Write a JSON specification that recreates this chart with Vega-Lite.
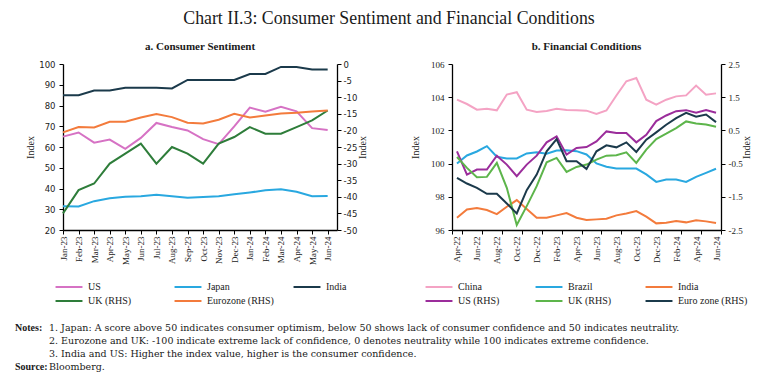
{
  "$schema": "https://vega.github.io/schema/vega-lite/v6.json",
  "background": "white",
  "padding": {"left": 15, "right": 5, "top": 10, "bottom": 5},
  "title": {"text": "Chart II.3: Consumer Sentiment and Financial Conditions", "font": "Liberation Serif", "fontSize": 17.8, "fontWeight": "normal", "color": "#1a1a1a", "anchor": "middle", "offset": 13},
  "datasets": {
    "sent": [
      {"month": "Jan-23", "series": "US", "value": 65.0}, {"month": "Feb-23", "series": "US", "value": 67.0}, {"month": "Mar-23", "series": "US", "value": 62.1}, {"month": "Apr-23", "series": "US", "value": 63.6}, {"month": "May-23", "series": "US", "value": 59.1}, {"month": "Jun-23", "series": "US", "value": 64.4}, {"month": "Jul-23", "series": "US", "value": 71.6}, {"month": "Aug-23", "series": "US", "value": 69.6}, {"month": "Sep-23", "series": "US", "value": 68.0}, {"month": "Oct-23", "series": "US", "value": 63.8}, {"month": "Nov-23", "series": "US", "value": 61.4}, {"month": "Dec-23", "series": "US", "value": 69.9}, {"month": "Jan-24", "series": "US", "value": 79.0}, {"month": "Feb-24", "series": "US", "value": 77.0}, {"month": "Mar-24", "series": "US", "value": 79.4}, {"month": "Apr-24", "series": "US", "value": 77.2}, {"month": "May-24", "series": "US", "value": 69.1}, {"month": "Jun-24", "series": "US", "value": 68.2},
      {"month": "Jan-23", "series": "Japan", "value": 31.4}, {"month": "Feb-23", "series": "Japan", "value": 31.3}, {"month": "Mar-23", "series": "Japan", "value": 33.9}, {"month": "Apr-23", "series": "Japan", "value": 35.3}, {"month": "May-23", "series": "Japan", "value": 36.0}, {"month": "Jun-23", "series": "Japan", "value": 36.3}, {"month": "Jul-23", "series": "Japan", "value": 37.0}, {"month": "Aug-23", "series": "Japan", "value": 36.3}, {"month": "Sep-23", "series": "Japan", "value": 35.5}, {"month": "Oct-23", "series": "Japan", "value": 35.9}, {"month": "Nov-23", "series": "Japan", "value": 36.3}, {"month": "Dec-23", "series": "Japan", "value": 37.2}, {"month": "Jan-24", "series": "Japan", "value": 38.1}, {"month": "Feb-24", "series": "Japan", "value": 39.1}, {"month": "Mar-24", "series": "Japan", "value": 39.6}, {"month": "Apr-24", "series": "Japan", "value": 38.4}, {"month": "May-24", "series": "Japan", "value": 36.3}, {"month": "Jun-24", "series": "Japan", "value": 36.4},
      {"month": "Jan-23", "series": "India", "value": 85.0}, {"month": "Feb-23", "series": "India", "value": 85.0}, {"month": "Mar-23", "series": "India", "value": 87.2}, {"month": "Apr-23", "series": "India", "value": 87.2}, {"month": "May-23", "series": "India", "value": 88.6}, {"month": "Jun-23", "series": "India", "value": 88.6}, {"month": "Jul-23", "series": "India", "value": 88.6}, {"month": "Aug-23", "series": "India", "value": 88.2}, {"month": "Sep-23", "series": "India", "value": 92.3}, {"month": "Oct-23", "series": "India", "value": 92.3}, {"month": "Nov-23", "series": "India", "value": 92.3}, {"month": "Dec-23", "series": "India", "value": 92.3}, {"month": "Jan-24", "series": "India", "value": 95.2}, {"month": "Feb-24", "series": "India", "value": 95.2}, {"month": "Mar-24", "series": "India", "value": 98.6}, {"month": "Apr-24", "series": "India", "value": 98.6}, {"month": "May-24", "series": "India", "value": 97.3}, {"month": "Jun-24", "series": "India", "value": 97.3},
      {"month": "Jan-23", "series": "UK (RHS)", "value": -45}, {"month": "Feb-23", "series": "UK (RHS)", "value": -38}, {"month": "Mar-23", "series": "UK (RHS)", "value": -36}, {"month": "Apr-23", "series": "UK (RHS)", "value": -30}, {"month": "May-23", "series": "UK (RHS)", "value": -27}, {"month": "Jun-23", "series": "UK (RHS)", "value": -24}, {"month": "Jul-23", "series": "UK (RHS)", "value": -30}, {"month": "Aug-23", "series": "UK (RHS)", "value": -25}, {"month": "Sep-23", "series": "UK (RHS)", "value": -27}, {"month": "Oct-23", "series": "UK (RHS)", "value": -30}, {"month": "Nov-23", "series": "UK (RHS)", "value": -24}, {"month": "Dec-23", "series": "UK (RHS)", "value": -22}, {"month": "Jan-24", "series": "UK (RHS)", "value": -19}, {"month": "Feb-24", "series": "UK (RHS)", "value": -21}, {"month": "Mar-24", "series": "UK (RHS)", "value": -21}, {"month": "Apr-24", "series": "UK (RHS)", "value": -19}, {"month": "May-24", "series": "UK (RHS)", "value": -17}, {"month": "Jun-24", "series": "UK (RHS)", "value": -14},
      {"month": "Jan-23", "series": "Eurozone (RHS)", "value": -20.6}, {"month": "Feb-23", "series": "Eurozone (RHS)", "value": -19.0}, {"month": "Mar-23", "series": "Eurozone (RHS)", "value": -19.1}, {"month": "Apr-23", "series": "Eurozone (RHS)", "value": -17.4}, {"month": "May-23", "series": "Eurozone (RHS)", "value": -17.4}, {"month": "Jun-23", "series": "Eurozone (RHS)", "value": -16.1}, {"month": "Jul-23", "series": "Eurozone (RHS)", "value": -15.1}, {"month": "Aug-23", "series": "Eurozone (RHS)", "value": -16.0}, {"month": "Sep-23", "series": "Eurozone (RHS)", "value": -17.7}, {"month": "Oct-23", "series": "Eurozone (RHS)", "value": -17.9}, {"month": "Nov-23", "series": "Eurozone (RHS)", "value": -16.8}, {"month": "Dec-23", "series": "Eurozone (RHS)", "value": -15.0}, {"month": "Jan-24", "series": "Eurozone (RHS)", "value": -16.1}, {"month": "Feb-24", "series": "Eurozone (RHS)", "value": -15.5}, {"month": "Mar-24", "series": "Eurozone (RHS)", "value": -14.9}, {"month": "Apr-24", "series": "Eurozone (RHS)", "value": -14.7}, {"month": "May-24", "series": "Eurozone (RHS)", "value": -14.3}, {"month": "Jun-24", "series": "Eurozone (RHS)", "value": -14.0}
    ],
    "fin": [
      {"month": "Apr-22", "series": "China", "value": 103.85}, {"month": "May-22", "series": "China", "value": 103.59}, {"month": "Jun-22", "series": "China", "value": 103.25}, {"month": "Jul-22", "series": "China", "value": 103.31}, {"month": "Aug-22", "series": "China", "value": 103.21}, {"month": "Sep-22", "series": "China", "value": 104.16}, {"month": "Oct-22", "series": "China", "value": 104.3}, {"month": "Nov-22", "series": "China", "value": 103.25}, {"month": "Dec-22", "series": "China", "value": 103.11}, {"month": "Jan-23", "series": "China", "value": 103.17}, {"month": "Feb-23", "series": "China", "value": 103.31}, {"month": "Mar-23", "series": "China", "value": 103.23}, {"month": "Apr-23", "series": "China", "value": 103.21}, {"month": "May-23", "series": "China", "value": 103.19}, {"month": "Jun-23", "series": "China", "value": 102.99}, {"month": "Jul-23", "series": "China", "value": 103.2}, {"month": "Aug-23", "series": "China", "value": 104.1}, {"month": "Sep-23", "series": "China", "value": 104.96}, {"month": "Oct-23", "series": "China", "value": 105.16}, {"month": "Nov-23", "series": "China", "value": 103.85}, {"month": "Dec-23", "series": "China", "value": 103.55}, {"month": "Jan-24", "series": "China", "value": 103.85}, {"month": "Feb-24", "series": "China", "value": 104.05}, {"month": "Mar-24", "series": "China", "value": 104.11}, {"month": "Apr-24", "series": "China", "value": 104.7}, {"month": "May-24", "series": "China", "value": 104.15}, {"month": "Jun-24", "series": "China", "value": 104.23},
      {"month": "Apr-22", "series": "Brazil", "value": 100.0}, {"month": "May-22", "series": "Brazil", "value": 100.49}, {"month": "Jun-22", "series": "Brazil", "value": 100.73}, {"month": "Jul-22", "series": "Brazil", "value": 101.05}, {"month": "Aug-22", "series": "Brazil", "value": 100.41}, {"month": "Sep-22", "series": "Brazil", "value": 100.31}, {"month": "Oct-22", "series": "Brazil", "value": 100.31}, {"month": "Nov-22", "series": "Brazil", "value": 100.61}, {"month": "Dec-22", "series": "Brazil", "value": 100.69}, {"month": "Jan-23", "series": "Brazil", "value": 100.59}, {"month": "Feb-23", "series": "Brazil", "value": 100.79}, {"month": "Mar-23", "series": "Brazil", "value": 100.81}, {"month": "Apr-23", "series": "Brazil", "value": 100.75}, {"month": "May-23", "series": "Brazil", "value": 100.55}, {"month": "Jun-23", "series": "Brazil", "value": 100.01}, {"month": "Jul-23", "series": "Brazil", "value": 99.81}, {"month": "Aug-23", "series": "Brazil", "value": 99.7}, {"month": "Sep-23", "series": "Brazil", "value": 99.7}, {"month": "Oct-23", "series": "Brazil", "value": 99.7}, {"month": "Nov-23", "series": "Brazil", "value": 99.35}, {"month": "Dec-23", "series": "Brazil", "value": 98.9}, {"month": "Jan-24", "series": "Brazil", "value": 99.04}, {"month": "Feb-24", "series": "Brazil", "value": 99.04}, {"month": "Mar-24", "series": "Brazil", "value": 98.9}, {"month": "Apr-24", "series": "Brazil", "value": 99.2}, {"month": "May-24", "series": "Brazil", "value": 99.44}, {"month": "Jun-24", "series": "Brazil", "value": 99.69},
      {"month": "Apr-22", "series": "India", "value": 96.74}, {"month": "May-22", "series": "India", "value": 97.24}, {"month": "Jun-22", "series": "India", "value": 97.32}, {"month": "Jul-22", "series": "India", "value": 97.2}, {"month": "Aug-22", "series": "India", "value": 96.96}, {"month": "Sep-22", "series": "India", "value": 97.4}, {"month": "Oct-22", "series": "India", "value": 97.8}, {"month": "Nov-22", "series": "India", "value": 97.27}, {"month": "Dec-22", "series": "India", "value": 96.74}, {"month": "Jan-23", "series": "India", "value": 96.74}, {"month": "Feb-23", "series": "India", "value": 96.88}, {"month": "Mar-23", "series": "India", "value": 97.02}, {"month": "Apr-23", "series": "India", "value": 96.74}, {"month": "May-23", "series": "India", "value": 96.6}, {"month": "Jun-23", "series": "India", "value": 96.64}, {"month": "Jul-23", "series": "India", "value": 96.68}, {"month": "Aug-23", "series": "India", "value": 96.88}, {"month": "Sep-23", "series": "India", "value": 97.0}, {"month": "Oct-23", "series": "India", "value": 97.14}, {"month": "Nov-23", "series": "India", "value": 96.8}, {"month": "Dec-23", "series": "India", "value": 96.4}, {"month": "Jan-24", "series": "India", "value": 96.44}, {"month": "Feb-24", "series": "India", "value": 96.54}, {"month": "Mar-24", "series": "India", "value": 96.46}, {"month": "Apr-24", "series": "India", "value": 96.58}, {"month": "May-24", "series": "India", "value": 96.52}, {"month": "Jun-24", "series": "India", "value": 96.42},
      {"month": "Apr-22", "series": "US (RHS)", "value": -0.13}, {"month": "May-22", "series": "US (RHS)", "value": -0.83}, {"month": "Jun-22", "series": "US (RHS)", "value": -0.68}, {"month": "Jul-22", "series": "US (RHS)", "value": -0.68}, {"month": "Aug-22", "series": "US (RHS)", "value": -0.26}, {"month": "Sep-22", "series": "US (RHS)", "value": -0.53}, {"month": "Oct-22", "series": "US (RHS)", "value": -0.88}, {"month": "Nov-22", "series": "US (RHS)", "value": -0.53}, {"month": "Dec-22", "series": "US (RHS)", "value": -0.26}, {"month": "Jan-23", "series": "US (RHS)", "value": 0.14}, {"month": "Feb-23", "series": "US (RHS)", "value": 0.32}, {"month": "Mar-23", "series": "US (RHS)", "value": -0.23}, {"month": "Apr-23", "series": "US (RHS)", "value": -0.03}, {"month": "May-23", "series": "US (RHS)", "value": 0.0}, {"month": "Jun-23", "series": "US (RHS)", "value": 0.17}, {"month": "Jul-23", "series": "US (RHS)", "value": 0.47}, {"month": "Aug-23", "series": "US (RHS)", "value": 0.42}, {"month": "Sep-23", "series": "US (RHS)", "value": 0.42}, {"month": "Oct-23", "series": "US (RHS)", "value": 0.14}, {"month": "Nov-23", "series": "US (RHS)", "value": 0.37}, {"month": "Dec-23", "series": "US (RHS)", "value": 0.78}, {"month": "Jan-24", "series": "US (RHS)", "value": 0.95}, {"month": "Feb-24", "series": "US (RHS)", "value": 1.08}, {"month": "Mar-24", "series": "US (RHS)", "value": 1.11}, {"month": "Apr-24", "series": "US (RHS)", "value": 1.03}, {"month": "May-24", "series": "US (RHS)", "value": 1.11}, {"month": "Jun-24", "series": "US (RHS)", "value": 1.03},
      {"month": "Apr-22", "series": "UK (RHS)", "value": -0.3}, {"month": "May-22", "series": "UK (RHS)", "value": -0.63}, {"month": "Jun-22", "series": "UK (RHS)", "value": -0.91}, {"month": "Jul-22", "series": "UK (RHS)", "value": -0.9}, {"month": "Aug-22", "series": "UK (RHS)", "value": -0.48}, {"month": "Sep-22", "series": "UK (RHS)", "value": -1.23}, {"month": "Oct-22", "series": "UK (RHS)", "value": -2.35}, {"month": "Nov-22", "series": "UK (RHS)", "value": -1.78}, {"month": "Dec-22", "series": "UK (RHS)", "value": -1.18}, {"month": "Jan-23", "series": "UK (RHS)", "value": -0.46}, {"month": "Feb-23", "series": "UK (RHS)", "value": -0.33}, {"month": "Mar-23", "series": "UK (RHS)", "value": -0.75}, {"month": "Apr-23", "series": "UK (RHS)", "value": -0.6}, {"month": "May-23", "series": "UK (RHS)", "value": -0.53}, {"month": "Jun-23", "series": "UK (RHS)", "value": -0.38}, {"month": "Jul-23", "series": "UK (RHS)", "value": -0.26}, {"month": "Aug-23", "series": "UK (RHS)", "value": -0.25}, {"month": "Sep-23", "series": "UK (RHS)", "value": -0.16}, {"month": "Oct-23", "series": "UK (RHS)", "value": -0.48}, {"month": "Nov-23", "series": "UK (RHS)", "value": -0.08}, {"month": "Dec-23", "series": "UK (RHS)", "value": 0.24}, {"month": "Jan-24", "series": "UK (RHS)", "value": 0.4}, {"month": "Feb-24", "series": "UK (RHS)", "value": 0.57}, {"month": "Mar-24", "series": "UK (RHS)", "value": 0.77}, {"month": "Apr-24", "series": "UK (RHS)", "value": 0.71}, {"month": "May-24", "series": "UK (RHS)", "value": 0.68}, {"month": "Jun-24", "series": "UK (RHS)", "value": 0.61},
      {"month": "Apr-22", "series": "Euro zone (RHS)", "value": -0.93}, {"month": "May-22", "series": "Euro zone (RHS)", "value": -1.1}, {"month": "Jun-22", "series": "Euro zone (RHS)", "value": -1.23}, {"month": "Jul-22", "series": "Euro zone (RHS)", "value": -1.41}, {"month": "Aug-22", "series": "Euro zone (RHS)", "value": -1.41}, {"month": "Sep-22", "series": "Euro zone (RHS)", "value": -1.7}, {"month": "Oct-22", "series": "Euro zone (RHS)", "value": -2.0}, {"month": "Nov-22", "series": "Euro zone (RHS)", "value": -1.3}, {"month": "Dec-22", "series": "Euro zone (RHS)", "value": -0.83}, {"month": "Jan-23", "series": "Euro zone (RHS)", "value": -0.13}, {"month": "Feb-23", "series": "Euro zone (RHS)", "value": 0.24}, {"month": "Mar-23", "series": "Euro zone (RHS)", "value": -0.43}, {"month": "Apr-23", "series": "Euro zone (RHS)", "value": -0.43}, {"month": "May-23", "series": "Euro zone (RHS)", "value": -0.66}, {"month": "Jun-23", "series": "Euro zone (RHS)", "value": -0.13}, {"month": "Jul-23", "series": "Euro zone (RHS)", "value": 0.05}, {"month": "Aug-23", "series": "Euro zone (RHS)", "value": -0.01}, {"month": "Sep-23", "series": "Euro zone (RHS)", "value": 0.14}, {"month": "Oct-23", "series": "Euro zone (RHS)", "value": -0.15}, {"month": "Nov-23", "series": "Euro zone (RHS)", "value": 0.22}, {"month": "Dec-23", "series": "Euro zone (RHS)", "value": 0.44}, {"month": "Jan-24", "series": "Euro zone (RHS)", "value": 0.67}, {"month": "Feb-24", "series": "Euro zone (RHS)", "value": 0.87}, {"month": "Mar-24", "series": "Euro zone (RHS)", "value": 1.03}, {"month": "Apr-24", "series": "Euro zone (RHS)", "value": 0.91}, {"month": "May-24", "series": "Euro zone (RHS)", "value": 0.98}, {"month": "Jun-24", "series": "Euro zone (RHS)", "value": 0.75}
    ],
    "notes": [
      {"line": 1, "col": "label", "text": "Notes:"},
      {"line": 1, "col": "body", "text": "1. Japan: A score above 50 indicates consumer optimism, below 50 shows lack of consumer confidence and 50 indicates neutrality."},
      {"line": 2, "col": "body", "text": "2. Eurozone and UK: -100 indicate extreme lack of confidence, 0 denotes neutrality while 100 indicates extreme confidence."},
      {"line": 3, "col": "body", "text": "3. India and US: Higher the index value, higher is the consumer confidence."},
      {"line": 4, "col": "label", "text": "Source:"},
      {"line": 4, "col": "body", "text": "Bloomberg."}
    ]
  },
  "vconcat": [
    {
      "hconcat": [
        {
          "title": {"text": "a. Consumer Sentiment", "font": "Liberation Serif", "fontSize": 11, "fontWeight": "bold", "color": "#1a1a1a", "offset": 8, "anchor": "middle"},
          "width": 274,
          "height": 166,
          "data": {"name": "sent"},
          "encoding": {
            "x": {
              "field": "month", "type": "ordinal",
              "scale": {"type": "point", "domain": ["Jan-23","Feb-23","Mar-23","Apr-23","May-23","Jun-23","Jul-23","Aug-23","Sep-23","Oct-23","Nov-23","Dec-23","Jan-24","Feb-24","Mar-24","Apr-24","May-24","Jun-24"], "padding": 0.3, "align": 0},
              "axis": {"title": null, "labelAngle": -90, "labelFontSize": 9}
            }
          },
          "layer": [
            {
              "transform": [{"filter": {"field": "series", "oneOf": ["US", "Japan", "India"]}}],
              "mark": {"type": "line", "strokeWidth": 2},
              "encoding": {
                "y": {"field": "value", "type": "quantitative", "scale": {"domain": [20, 100], "nice": false, "zero": false},
                      "axis": {"orient": "left", "title": "Index", "values": [20,30,40,50,60,70,80,90,100], "labelFont": "DejaVu Sans", "labelFontSize": 8.5, "labelPadding": 4, "titlePadding": 3}},
                "color": {"field": "series", "type": "nominal",
                  "scale": {"domain": ["US", "Japan", "India", "UK (RHS)", "Eurozone (RHS)"], "range": ["#D672C4", "#29A8E0", "#1B3A4B", "#2E7D3A", "#F37B3C"]},
                  "legend": {"orient": "none", "legendX": 1, "legendY": 218, "direction": "horizontal", "columns": 3, "title": null, "columnPadding": 15}}
              }
            },
            {
              "transform": [{"filter": {"field": "series", "oneOf": ["UK (RHS)", "Eurozone (RHS)"]}}],
              "mark": {"type": "line", "strokeWidth": 2},
              "encoding": {
                "y": {"field": "value", "type": "quantitative", "scale": {"domain": [-50, 0], "nice": false, "zero": false},
                      "axis": {"orient": "right", "title": "Index", "titleAngle": -90, "values": [-50,-45,-40,-35,-30,-25,-20,-15,-10,-5,0], "labelFont": "DejaVu Sans", "labelFontSize": 8.5, "labelPadding": 2, "titlePadding": 11, "labelExpr": "replace(datum.label, '\u2212', '-')"}},
                "color": {"field": "series", "type": "nominal"}
              }
            }
          ],
          "resolve": {"scale": {"y": "independent"}}
        },
        {
          "title": {"text": "b. Financial Conditions", "font": "Liberation Serif", "fontSize": 11, "fontWeight": "bold", "color": "#1a1a1a", "offset": 8, "anchor": "middle"},
          "width": 269,
          "height": 166,
          "data": {"name": "fin"},
          "encoding": {
            "x": {
              "field": "month", "type": "ordinal",
              "scale": {"type": "band", "domain": ["Apr-22","May-22","Jun-22","Jul-22","Aug-22","Sep-22","Oct-22","Nov-22","Dec-22","Jan-23","Feb-23","Mar-23","Apr-23","May-23","Jun-23","Jul-23","Aug-23","Sep-23","Oct-23","Nov-23","Dec-23","Jan-24","Feb-24","Mar-24","Apr-24","May-24","Jun-24"], "paddingInner": 0, "paddingOuter": 0},
              "bandPosition": 0.5,
              "axis": {"title": null, "labelAngle": -90, "labelFontSize": 9, "tickBand": "extent", "values": ["Apr-22","Jun-22","Aug-22","Oct-22","Dec-22","Feb-23","Apr-23","Jun-23","Aug-23","Oct-23","Dec-23","Feb-24","Apr-24","Jun-24"]}
            }
          },
          "layer": [
            {
              "transform": [{"filter": {"field": "series", "oneOf": ["China", "Brazil", "India"]}}],
              "mark": {"type": "line", "strokeWidth": 2},
              "encoding": {
                "y": {"field": "value", "type": "quantitative", "scale": {"domain": [96, 106], "nice": false, "zero": false},
                      "axis": {"orient": "left", "title": "Index", "values": [96,98,100,102,104,106], "labelFontSize": 9, "labelPadding": 4, "titlePadding": 10}},
                "color": {"field": "series", "type": "nominal",
                  "scale": {"domain": ["China", "Brazil", "India", "US (RHS)", "UK (RHS)", "Euro zone (RHS)"], "range": ["#F4A3C4", "#29A8E0", "#F37B3C", "#9B2D9B", "#5DB54B", "#1B3A4B"]},
                  "legend": {"orient": "none", "legendX": -18, "legendY": 218, "direction": "horizontal", "columns": 3, "title": null, "columnPadding": 3}}
              }
            },
            {
              "transform": [{"filter": {"field": "series", "oneOf": ["US (RHS)", "UK (RHS)", "Euro zone (RHS)"]}}],
              "mark": {"type": "line", "strokeWidth": 2},
              "encoding": {
                "y": {"field": "value", "type": "quantitative", "scale": {"domain": [-2.5, 2.5], "nice": false, "zero": false},
                      "axis": {"orient": "right", "title": "Index", "titleAngle": -90, "values": [-2.5,-1.5,-0.5,0.5,1.5,2.5], "format": ".1f", "labelFontSize": 9, "labelPadding": 3, "titlePadding": 9, "labelExpr": "replace(datum.label, '\u2212', '-')"}},
                "color": {"field": "series", "type": "nominal"}
              }
            }
          ],
          "resolve": {"scale": {"y": "independent"}}
        }
      ],
      "spacing": 42,
      "resolve": {"scale": {"color": "independent"}, "legend": {"color": "independent"}}
    },
    {
      "width": 700,
      "height": 39,
      "data": {"name": "notes"},
      "encoding": {
        "x": {"field": "col", "type": "nominal", "scale": {"type": "point", "domain": ["label", "body"], "range": [-48, -14], "padding": 0}, "axis": null},
        "y": {"field": "line", "type": "ordinal", "scale": {"type": "point", "padding": 0}, "axis": null},
        "text": {"field": "text"}
      },
      "layer": [
        {"transform": [{"filter": "datum.col == 'label'"}], "mark": {"type": "text", "align": "left", "baseline": "middle", "font": "Liberation Serif", "fontSize": 10, "fontWeight": "bold", "color": "#1a1a1a"}},
        {"transform": [{"filter": "datum.col == 'body'"}], "mark": {"type": "text", "align": "left", "baseline": "middle", "font": "DejaVu Serif", "fontSize": 9.5, "color": "#1a1a1a"}}
      ]
    }
  ],
  "spacing": 264,
  "bounds": "flush",
  "config": {
    "view": {"stroke": null},
    "font": "Liberation Serif",
    "axis": {"domainColor": "#000", "domainWidth": 1.3, "tickColor": "#000", "tickWidth": 1, "tickSize": 4, "grid": false, "labelColor": "#222", "labelFont": "Liberation Serif", "labelFontSize": 9, "titleFont": "Liberation Serif", "titleFontSize": 10, "titleFontWeight": "normal", "titleColor": "#222", "labelPadding": 2},
    "legend": {"labelFont": "Liberation Serif", "labelFontSize": 10, "labelColor": "#222", "symbolType": "M-5,0H5", "symbolSize": 29, "symbolStrokeWidth": 2, "labelOffset": 14, "gridAlign": "all", "rowPadding": 4, "padding": 0}
  }
}
